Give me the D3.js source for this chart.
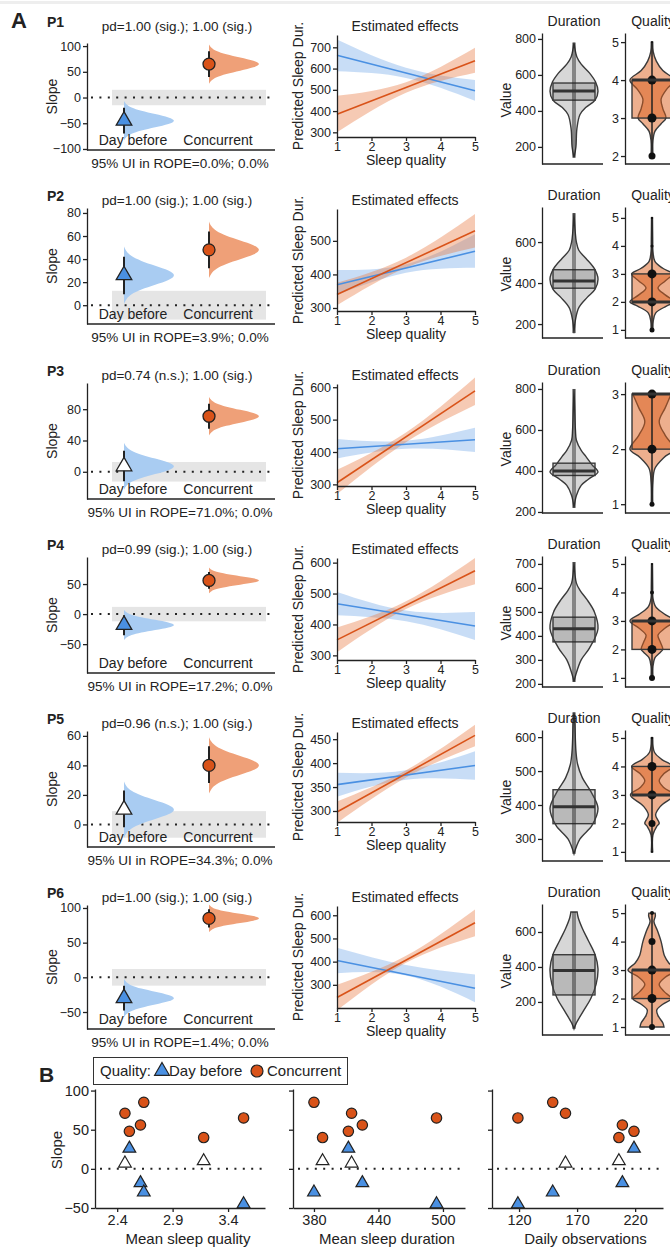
<!DOCTYPE html>
<html>
<head>
<meta charset="utf-8">
<script src="https://cdn.jsdelivr.net/npm/d3@7"></script>
<style>
  body { margin: 0; background: #fff; }
  svg { font-family: "Liberation Sans", Arial, sans-serif; }
  .axis { color: #222; }
  .axis path, .axis line { stroke-width: 1.3; }
  .axis text { font-size: 12.5px; fill: #222; }
  .axisB text { font-size: 14.5px; }
</style>
</head>
<body>
<div id="chart"></div>
<script>
// ---------------- data ----------------
const participants = ["P1", "P2", "P3", "P4", "P5", "P6"];
const conditions = ["Day before", "Concurrent"];
const pdLabels = [
  "pd=1.00 (sig.); 1.00 (sig.)", "pd=1.00 (sig.); 1.00 (sig.)", "pd=0.74 (n.s.); 1.00 (sig.)",
  "pd=0.99 (sig.); 1.00 (sig.)", "pd=0.96 (n.s.); 1.00 (sig.)", "pd=1.00 (sig.); 1.00 (sig.)"
];
const ropeLabels = [
  "95% UI in ROPE=0.0%; 0.0%", "95% UI in ROPE=3.9%; 0.0%", "95% UI in ROPE=71.0%; 0.0%",
  "95% UI in ROPE=17.2%; 0.0%", "95% UI in ROPE=34.3%; 0.0%", "95% UI in ROPE=1.4%; 0.0%"
];

// slope posteriors: median and 95% interval
const slopeBefore   = [-45, 26, 7, -18, 10, -30];
const slopeBeforeLo = [-70, 9.5, -12, -35, -2, -48];
const slopeBeforeHi = [-20, 42, 27, -2, 23, -12];
const slopeConc     = [65, 48, 71, 56, 40, 85];
const slopeConcLo   = [40, 32, 55, 42, 28, 72];
const slopeConcHi   = [90, 64, 87, 70, 53, 98];
const beforeSig     = [true, true, false, true, false, true];
const ropeHalf      = [15, 12.5, 12.5, 12, 9, 12];
const slopeLim   = [[-102, 106], [-16.3, 84.3], [-34.8, 113.5], [-98, 95], [-15.3, 63.3], [-74.5, 104.3]];
const slopeTicks = [[-100, -50, 0, 50, 100], [0, 20, 40, 60, 80], [0, 40, 80], [-50, 0, 50], [0, 20, 40, 60], [-50, 0, 50, 100]];
// shape of the posterior half-violins: [z, relative width]
const postProfile = [[-3, 0], [-2.5, 0.04], [-2, 0.13], [-1.5, 0.32], [-1, 0.6], [-0.5, 0.88], [0, 1],
  [0.5, 0.88], [1, 0.6], [1.5, 0.32], [2, 0.13], [2.5, 0.04], [3, 0]];

// estimated effects: fitted line at quality 1 and 5, band at quality 1, 3, 5
const qualityPts = [1, 3, 5];
const fitBefore    = [[663, 496], [369, 469], [410, 438], [467, 395], [355, 395], [405, 285]];
const bandBeforeLo = [[587, 556, 449], [339, 405, 420], [380, 410, 400], [430, 410, 350], [330, 365, 365], [350, 340, 225]];
const bandBeforeHi = [[737, 604, 546], [413, 430, 520], [440, 435, 475], [505, 445, 440], [380, 385, 425], [460, 385, 345]];
const fitConc      = [[385, 637], [340, 530], [305, 589], [350, 574], [298, 458], [245, 568]];
const bandConcLo   = [[300, 486, 580], [308, 420, 480], [270, 430, 545], [310, 450, 530], [275, 370, 435], [190, 395, 510]];
const bandConcHi   = [[472, 536, 698], [375, 450, 580], [345, 460, 630], [390, 475, 615], [320, 385, 480], [300, 425, 625]];
const predLim   = [[278, 758], [291, 595], [295, 610], [285, 615], [277, 465], [200, 640]];
const predTicks = [[300, 400, 500, 600, 700], [300, 400, 500], [300, 400, 500, 600], [300, 400, 500, 600], [300, 350, 400, 450], [300, 400, 500, 600]];

// raw sleep duration distributions
const durLim   = [[105, 833], [132, 771], [195, 834], [187, 733], [235, 621], [11, 760]];
const durTicks = [[200, 400, 600, 800], [200, 400, 600], [200, 400, 600, 800], [200, 300, 400, 500, 600, 700], [300, 400, 500, 600], [200, 400, 600]];
const durShape = [
  [[140, 0], [200, 0.08], [300, 0.12], [380, 0.25], [420, 0.5], [460, 0.88], [510, 1], [560, 0.9], [610, 0.65], [660, 0.3], [700, 0.12], [780, 0]],
  [[156, 0], [220, 0.06], [280, 0.2], [330, 0.55], [370, 0.88], [420, 1], [470, 0.85], [520, 0.5], [560, 0.2], [600, 0.1], [650, 0.05], [741, 0]],
  [[220, 0], [280, 0.1], [330, 0.3], [360, 0.6], [395, 1], [430, 0.75], [470, 0.5], [500, 0.3], [550, 0.1], [600, 0.06], [700, 0.03], [800, 0]],
  [[208, 0], [240, 0.08], [300, 0.3], [350, 0.65], [430, 1], [500, 0.85], [550, 0.55], [590, 0.25], [620, 0.1], [708, 0]],
  [[256, 0], [300, 0.25], [340, 0.75], [390, 1], [440, 0.7], [480, 0.35], [520, 0.15], [560, 0.08], [650, 0.03], [673, 0]],
  [[46, 0], [80, 0.1], [150, 0.4], [220, 0.7], [300, 0.92], [390, 1], [470, 0.88], [550, 0.6], [620, 0.35], [680, 0.18], [714, 0.13]]
];
const durBox   = [[460, 510, 555], [375, 410, 465], [378, 400, 438], [375, 430, 478], [345, 395, 445], [240, 380, 470]];
const durRange = [[140, 780], [156, 741], [220, 800], [208, 708], [256, 673], [46, 714]];

// raw sleep quality distributions
const qualLim   = [[1.79, 5.24], [0.71, 5.39], [0.84, 3.22], [0.68, 5.28], [0.68, 5.28], [0.72, 5.32]];
const qualTicks = [[2, 3, 4, 5], [1, 2, 3, 4, 5], [1, 2, 3], [1, 2, 3, 4, 5], [1, 2, 3, 4, 5], [1, 2, 3, 4, 5]];
const qualShape = [
  [[2, 0.04], [2.4, 0.04], [2.65, 0.12], [2.85, 0.38], [3, 0.58], [3.25, 0.45], [3.5, 0.38], [3.75, 0.6], [4, 0.92], [4.25, 0.45], [4.5, 0.18], [4.75, 0.05], [5, 0.03]],
  [[1, 0.04], [1.3, 0.05], [1.6, 0.15], [1.85, 0.6], [2, 0.92], [2.25, 0.55], [2.5, 0.25], [2.75, 0.55], [3, 0.85], [3.2, 0.45], [3.45, 0.12], [3.8, 0.04], [4.2, 0.03], [5, 0.02]],
  [[1, 0.03], [1.4, 0.04], [1.65, 0.12], [1.85, 0.5], [2, 0.92], [2.25, 0.55], [2.5, 0.3], [2.75, 0.55], [3, 0.8]],
  [[1, 0.04], [1.4, 0.04], [1.7, 0.12], [1.9, 0.35], [2, 0.45], [2.25, 0.35], [2.5, 0.25], [2.75, 0.55], [3, 0.92], [3.25, 0.5], [3.5, 0.15], [3.8, 0.04], [4.2, 0.03], [5, 0.02]],
  [[1, 0.03], [1.6, 0.04], [1.9, 0.2], [2, 0.3], [2.3, 0.15], [2.6, 0.35], [3, 0.9], [3.25, 0.5], [3.5, 0.3], [3.75, 0.5], [4, 0.85], [4.25, 0.4], [4.5, 0.1], [5, 0.03]],
  [[1, 0.5], [1.15, 0.45], [1.4, 0.25], [1.6, 0.2], [1.8, 0.45], [2, 0.8], [2.25, 0.5], [2.5, 0.3], [2.75, 0.55], [3, 1], [3.25, 0.7], [3.5, 0.52], [4, 0.38], [4.4, 0.22], [4.7, 0.08], [4.9, 0.14], [5, 0.13]]
];
const qualBox  = [[3, 4, 4], [2, 2, 3], [2, 3, 3], [2, 3, 3], [3, 3, 4], [2, 3, 3]];
const qualDots = [
  [[2, 3.5], [3, 4.5], [4, 4.5], [5, 1]],
  [[1, 2.5], [2, 4.5], [3, 4.5], [4, 1.5], [5, 1.2]],
  [[1, 2.5], [2, 4.5], [3, 4.5]],
  [[1, 3], [2, 4.5], [3, 4.5], [4, 2], [5, 1]],
  [[1, 1], [2, 3.5], [3, 4.5], [4, 4.5], [5, 1.2]],
  [[1, 3], [2, 4.5], [3, 4.5], [4, 3.5], [5, 2]]
];

// panel B predictors
const meanQuality  = [3.54, 2.51, 2.47, 2.61, 3.18, 2.64];
const meanDuration = [494, 412, 415, 425, 388, 380];
const dailyObs     = [119, 219, 160, 209, 206, 149];

// ---------------- layout / style ----------------
const rowY = [0, 174, 349, 523, 697, 871];
const leftTop = [43, 34, 34, 34, 34, 34];
const leftBot = [150, 150, 150, 150, 150, 158];
const midBot = [137, 137, 137, 137, 125, 137];
const blue = "#4a90e2", blueLight = "#a9ccf2";
const orange = "#d95319", orangeLight = "#efa078";
const ink = "#222";

const svg = d3.select("#chart").append("svg").attr("width", 670).attr("height", 1247);
svg.append("rect").attr("width", 670).attr("height", 1247).attr("fill", "#fff");
svg.append("rect").attr("y", 1).attr("width", 670).attr("height", 3).attr("fill", "#eeeeee");

function text(g, x, y, s, opts = {}) {
  const t = g.append("text").attr("x", x).attr("y", y).text(s)
    .attr("font-size", opts.size || 14).attr("fill", ink)
    .attr("text-anchor", opts.anchor || "start");
  if (opts.bold) t.attr("font-weight", "bold");
  return t;
}
function yLabel(g, x, y, s, size = 14) {
  g.append("text").attr("transform", `translate(${x},${y}) rotate(-90)`)
    .attr("text-anchor", "middle").attr("font-size", size).attr("fill", ink).text(s);
}
function axisFix(g) { g.attr("class", "axis").attr("font-family", null).attr("font-size", null); }
function hline(g, x1, x2, y) {
  g.append("line").attr("x1", x1).attr("x2", x2).attr("y1", y).attr("y2", y)
    .attr("stroke", ink).attr("stroke-width", 1.3);
}

text(svg, 11, 28, "A", { size: 22, bold: true });

const xCond = d3.scalePoint().domain(conditions).range([124, 209]);
const triangle = d3.symbol().type(d3.symbolTriangle);

participants.forEach((p, i) => {
  const oy = rowY[i];
  const g = svg.append("g");

  // ---- slope posterior panel ----
  const bot = oy + leftBot[i];
  const y = d3.scaleLinear().domain(slopeLim[i]).range([bot, oy + leftTop[i]]);
  g.append("rect").attr("x", 112).attr("width", 154)
    .attr("y", y(ropeHalf[i])).attr("height", y(-ropeHalf[i]) - y(ropeHalf[i]))
    .attr("fill", "#e5e5e5");
  g.append("line").attr("x1", 91).attr("x2", 274).attr("y1", y(0)).attr("y2", y(0))
    .attr("stroke", ink).attr("stroke-width", 2).attr("stroke-dasharray", "2,6.4");

  const post = [
    { c: conditions[0], m: slopeBefore[i], lo: slopeBeforeLo[i], hi: slopeBeforeHi[i], col: blueLight },
    { c: conditions[1], m: slopeConc[i], lo: slopeConcLo[i], hi: slopeConcHi[i], col: orangeLight }
  ];
  post.forEach(d => {
    const cx = xCond(d.c), sd = (d.hi - d.lo) / 3.92;
    g.append("path").attr("fill", d.col)
      .attr("d", d3.area().y(q => y(d.m + q[0] * sd)).x0(cx).x1(q => cx + q[1] * 52).curve(d3.curveBasis)(postProfile));
  });
  post.forEach(d => {
    const cx = xCond(d.c);
    g.append("line").attr("x1", cx).attr("x2", cx).attr("y1", y(d.lo)).attr("y2", y(d.hi))
      .attr("stroke", ink).attr("stroke-width", 2);
  });
  g.append("path").attr("d", triangle.size(105)())
    .attr("transform", `translate(${xCond(conditions[0])},${y(slopeBefore[i])})`)
    .attr("fill", beforeSig[i] ? blue : "#fff").attr("stroke", ink).attr("stroke-width", 1.3);
  g.append("circle").attr("cx", xCond(conditions[1])).attr("cy", y(slopeConc[i])).attr("r", 6)
    .attr("fill", orange).attr("stroke", ink).attr("stroke-width", 1.3);

  g.append("g").attr("transform", "translate(87,0)")
    .call(d3.axisLeft(y).tickValues(slopeTicks[i]).tickFormat(d3.format("d")).tickSize(4).tickSizeOuter(0).tickPadding(2))
    .call(axisFix);
  hline(g, 87, 275, bot);
  conditions.forEach(c => text(g, xCond(c) + 9, bot - 5, c, { anchor: "middle" }));
  text(g, 47, oy + 27, p, { bold: true });
  text(g, 177, oy + 31, pdLabels[i], { anchor: "middle", size: 13.5 });
  text(g, 180, bot + 18, ropeLabels[i], { anchor: "middle", size: 13.5 });
  yLabel(g, 57, (oy + leftTop[i] + bot) / 2, "Slope");

  // ---- estimated effects panel ----
  const mb = oy + midBot[i];
  const xq = d3.scaleLinear().domain([1, 5]).range([337, 475]);
  const yp = d3.scaleLinear().domain(predLim[i]).range([mb, oy + 35]);
  const band = (lo, hi) => d3.area()
    .x((d, k) => xq(qualityPts[k])).y0((d, k) => yp(lo[k])).y1((d, k) => yp(hi[k]))
    .curve(d3.curveNatural)(qualityPts);
  g.append("path").attr("d", band(bandBeforeLo[i], bandBeforeHi[i])).attr("fill", blue).attr("opacity", 0.3);
  g.append("path").attr("d", band(bandConcLo[i], bandConcHi[i])).attr("fill", "#e8743b").attr("opacity", 0.38);
  const fitLine = f => d3.line()([[xq(1), yp(f[0])], [xq(5), yp(f[1])]]);
  g.append("path").attr("d", fitLine(fitBefore[i])).attr("stroke", blue).attr("stroke-width", 1.6).attr("fill", "none");
  g.append("path").attr("d", fitLine(fitConc[i])).attr("stroke", orange).attr("stroke-width", 1.6).attr("fill", "none");
  g.append("g").attr("transform", "translate(337,0)")
    .call(d3.axisLeft(yp).tickValues(predTicks[i]).tickFormat(d3.format("d")).tickSize(4).tickSizeOuter(0).tickPadding(2))
    .call(axisFix);
  g.append("g").attr("transform", `translate(0,${mb})`)
    .call(d3.axisBottom(xq).tickValues([1, 2, 3, 4, 5]).tickFormat(d3.format("d")).tickSize(4).tickSizeOuter(0).tickPadding(1))
    .call(axisFix);
  text(g, 405, oy + 31, "Estimated effects", { anchor: "middle" });
  text(g, 406, mb + 28, "Sleep quality", { anchor: "middle" });
  yLabel(g, 303, (oy + 35 + mb) / 2, "Predicted Sleep Dur.");

  // ---- raw distributions ----
  const drawViolin = (cx, yy, shape, box, halfW, boxW, col, alpha) => {
    g.append("path")
      .attr("d", d3.area().y(d => yy(d[0])).x0(d => cx - d[1] * halfW).x1(d => cx + d[1] * halfW)
        .curve(d3.curveCatmullRom.alpha(0.5))(shape))
      .attr("fill", col).attr("fill-opacity", alpha).attr("stroke", "#3a3a3a").attr("stroke-width", 1.4);
    g.append("rect").attr("x", cx - boxW).attr("width", 2 * boxW)
      .attr("y", yy(box[2])).attr("height", yy(box[0]) - yy(box[2]))
      .attr("fill", col).attr("fill-opacity", alpha).attr("stroke", "#3a3a3a").attr("stroke-width", 1.4);
  };

  const yd = d3.scaleLinear().domain(durLim[i]).range([oy + 164, oy + 33]);
  drawViolin(574, yd, durShape[i], durBox[i], 24, 21, "#5f5f5f", 0.25);
  g.append("rect").attr("x", 572).attr("width", 4)
    .attr("y", yd(durRange[i][1])).attr("height", yd(durRange[i][0]) - yd(durRange[i][1]))
    .attr("fill", "#222").attr("opacity", 0.45);
  g.append("line").attr("x1", 553).attr("x2", 595).attr("y1", yd(durBox[i][1])).attr("y2", yd(durBox[i][1]))
    .attr("stroke", "#333").attr("stroke-width", 3);
  g.append("g").attr("transform", "translate(542,0)")
    .call(d3.axisLeft(yd).tickValues(durTicks[i]).tickFormat(d3.format("d")).tickSize(4).tickSizeOuter(0).tickPadding(2))
    .call(axisFix);
  hline(g, 542, 603, oy + 164);
  text(g, 574, oy + 26, "Duration", { anchor: "middle" });
  yLabel(g, 511, oy + 100, "Value");

  const yql = d3.scaleLinear().domain(qualLim[i]).range([oy + 164, oy + 33]);
  drawViolin(652, yql, qualShape[i], qualBox[i], 24, 20, "#dc5f1e", 0.5);
  const qv = qualShape[i].map(d => d[0]);
  g.append("line").attr("x1", 652).attr("x2", 652).attr("y1", yql(d3.min(qv))).attr("y2", yql(d3.max(qv)))
    .attr("stroke", "#222").attr("stroke-width", 1.5);
  qualDots[i].forEach(d => g.append("circle").attr("cx", 652).attr("cy", yql(d[0])).attr("r", d[1]).attr("fill", "#111"));
  g.append("line").attr("x1", 632).attr("x2", 672).attr("y1", yql(qualBox[i][1])).attr("y2", yql(qualBox[i][1]))
    .attr("stroke", "#333").attr("stroke-width", 3);
  g.append("g").attr("transform", "translate(625,0)")
    .call(d3.axisLeft(yql).tickValues(qualTicks[i]).tickFormat(d3.format("d")).tickSize(4).tickSizeOuter(0).tickPadding(2))
    .call(axisFix);
  hline(g, 625, 670, oy + 164);
  text(g, 653, oy + 26, "Quality", { anchor: "middle" });
});

// ---------------- panel B ----------------
const gB = svg.append("g");
text(gB, 39, 1082, "B", { size: 21, bold: true });
gB.append("rect").attr("x", 93.5).attr("y", 1057.5).attr("width", 254).attr("height", 27)
  .attr("fill", "#fff").attr("stroke", "#333").attr("stroke-width", 1);
text(gB, 100, 1076, "Quality:", { size: 15 });
gB.append("path").attr("d", triangle.size(95)()).attr("transform", "translate(162,1071)")
  .attr("fill", blue).attr("stroke", ink).attr("stroke-width", 1.2);
text(gB, 169, 1076, "Day before", { size: 15 });
gB.append("circle").attr("cx", 257).attr("cy", 1071).attr("r", 6).attr("fill", orange).attr("stroke", ink).attr("stroke-width", 1.2);
text(gB, 267, 1076, "Concurrent", { size: 15 });

const yB = d3.scaleLinear().domain([-50, 102]).range([1208, 1089]);
const subplots = [
  { vals: meanQuality, dom: [2.2, 3.733], range: [95, 265], ticks: [2.4, 2.9, 3.4], fmt: d3.format(".1f"), label: "Mean sleep quality" },
  { vals: meanDuration, dom: [360.5, 520.5], range: [293, 465], ticks: [380, 440, 500], fmt: d3.format("d"), label: "Mean sleep duration" },
  { vals: dailyObs, dom: [96.7, 244], range: [492, 663], ticks: [120, 170, 220], fmt: d3.format("d"), label: "Daily observations" }
];
subplots.forEach((s, k) => {
  const x = d3.scaleLinear().domain(s.dom).range(s.range);
  gB.append("line").attr("x1", s.range[0] + 5).attr("x2", s.range[1] - 3).attr("y1", yB(0)).attr("y2", yB(0))
    .attr("stroke", ink).attr("stroke-width", 2).attr("stroke-dasharray", "2,6.4");
  s.vals.forEach((v, i) => {
    gB.append("circle").attr("cx", x(v)).attr("cy", yB(slopeConc[i])).attr("r", 5.2)
      .attr("fill", orange).attr("stroke", ink).attr("stroke-width", 1.2);
  });
  s.vals.forEach((v, i) => {
    gB.append("path").attr("d", triangle.size(70)()).attr("transform", `translate(${x(v)},${yB(slopeBefore[i])})`)
      .attr("fill", beforeSig[i] ? blue : "#fff").attr("stroke", ink).attr("stroke-width", 1.2);
  });
  gB.append("g").attr("transform", `translate(${s.range[0]},0)`)
    .call(d3.axisLeft(yB).tickValues([-50, 0, 50, 100]).tickFormat(k === 0 ? d3.format("d") : "").tickSize(4).tickSizeOuter(0).tickPadding(2))
    .call(axisFix).classed("axisB", true);
  gB.append("g").attr("transform", "translate(0,1208)")
    .call(d3.axisBottom(x).tickValues(s.ticks).tickFormat(s.fmt).tickSize(4).tickSizeOuter(0).tickPadding(3))
    .call(axisFix).classed("axisB", true);
  text(gB, (s.range[0] + s.range[1]) / 2 + 8, 1244, s.label, { anchor: "middle", size: 15 });
});
yLabel(gB, 62, 1150, "Slope", 15);
</script>
</body>
</html>
